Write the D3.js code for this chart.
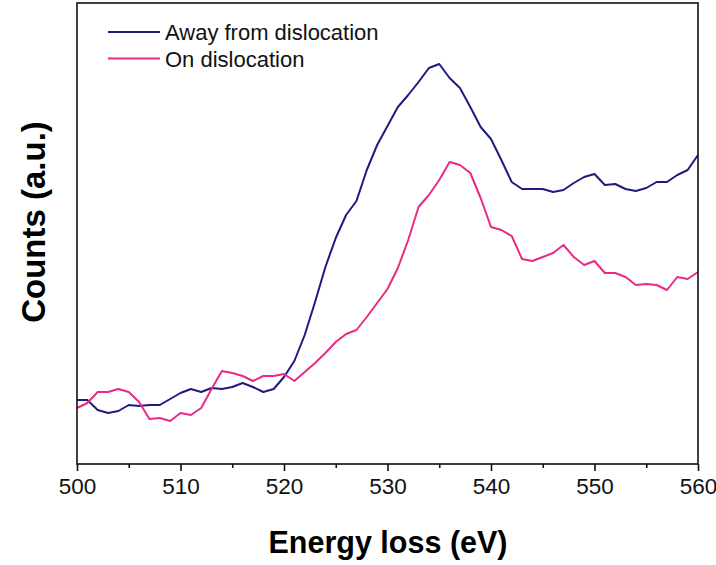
<!DOCTYPE html>
<html><head><meta charset="utf-8">
<script src="https://cdn.jsdelivr.net/npm/d3@7"></script>
<style>html,body{margin:0;padding:0;background:#fff;}svg{display:block;}</style>
</head><body>
<svg id="chart" width="716" height="565"></svg>
<script>
const energy = d3.range(500, 561, 1);
const awayFromDislocation = [64,64,54,51,53,59,58,59,59,65,71,75,72,76,75,77,81,77,72,75,
  87,103,129,162,197,226,249,263,294,319,338,357,369,382,396,400,386,376,357,337,
  325,304,282,275,275,275,272,274,281,287,290,279,280,275,273,276,282,282,289,294,309];
const onDislocation = [56,61,72,72,75,72,62,45,46,43,51,49,56,75,93,91,88,83,88,88,
  90,83,92,101,111,122,130,134,147,161,175,196,224,257,269,284,302,299,291,266,
  237,234,228,205,203,207,211,219,207,199,203,191,191,187,179,180,179,174,187,185,192];
const seriesNames = ["Away from dislocation", "On dislocation"];
const seriesColors = ["#1c1c7e", "#ea2a86"];
const xTicks = [500, 510, 520, 530, 540, 550, 560];
const xMinorTicks = [505, 515, 525, 535, 545, 555];

const svg = d3.select("#chart");
const L = 77, R = 698, T = 3, B = 464;
const x = d3.scaleLinear().domain([500, 560]).range([L, R]);
const y = d3.scaleLinear().domain([0, 461]).range([B, T]);

const font = "'Liberation Sans', Arial, sans-serif";

const series = [awayFromDislocation, onDislocation];
const line = d3.line().x((d, i) => x(energy[i])).y(d => y(d));
series.forEach((s, k) => {
  svg.append("path").datum(s).attr("d", line)
    .attr("fill", "none").attr("stroke", seriesColors[k])
    .attr("stroke-width", 2).attr("stroke-linejoin", "round");
});

// frame
svg.append("rect").attr("x", L).attr("y", T).attr("width", R - L).attr("height", B - T)
  .attr("fill", "none").attr("stroke", "#111").attr("stroke-width", 1.6);

// bottom axis
const ax = svg.append("g").attr("transform", `translate(0,${B})`)
  .call(d3.axisBottom(x).tickValues(xTicks).tickSize(7).tickPadding(7).tickFormat(d3.format("d")));
ax.select(".domain").remove();
ax.selectAll(".tick line").attr("stroke", "#111").attr("stroke-width", 1.6);
ax.selectAll(".tick text").attr("font-family", font).attr("font-size", 22.5).attr("fill", "#111");
const axm = svg.append("g").attr("transform", `translate(0,${B})`)
  .call(d3.axisBottom(x).tickValues(xMinorTicks).tickSize(4).tickFormat(""));
axm.select(".domain").remove();
axm.selectAll(".tick line").attr("stroke", "#111").attr("stroke-width", 1.6);

// axis titles
svg.append("text").attr("x", 388).attr("y", 553).attr("text-anchor", "middle")
  .attr("font-family", font).attr("font-weight", "bold").attr("font-size", 30.5).attr("fill", "#000")
  .text("Energy loss (eV)");
svg.append("text").attr("transform", "translate(45,222) rotate(-90)").attr("text-anchor", "middle")
  .attr("font-family", font).attr("font-weight", "bold").attr("font-size", 33).attr("fill", "#000")
  .text("Counts (a.u.)");

// legend
seriesNames.forEach((n, k) => {
  const ly = 32 + k * 26.5;
  svg.append("line").attr("x1", 108).attr("x2", 160).attr("y1", ly).attr("y2", ly)
    .attr("stroke", seriesColors[k]).attr("stroke-width", 2);
  svg.append("text").attr("x", 165).attr("y", ly + 8).attr("font-family", font)
    .attr("font-size", 22).attr("fill", "#111").text(n);
});
</script>
</body></html>
